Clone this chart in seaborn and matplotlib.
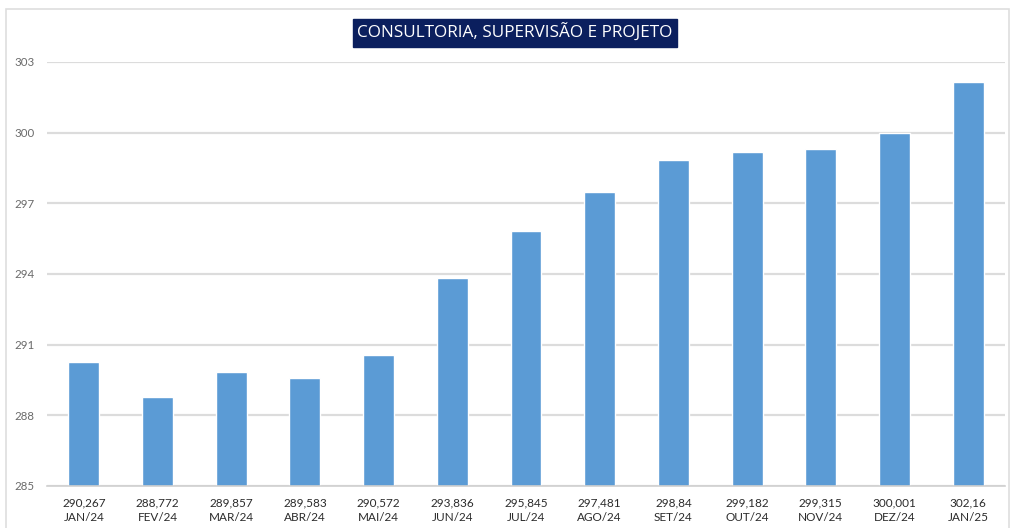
import numpy as np
import pandas as pd
import matplotlib
matplotlib.use("Agg")
import matplotlib.pyplot as plt
import seaborn as sns
from matplotlib.patches import Rectangle

# chart data
months = ["JAN/24", "FEV/24", "MAR/24", "ABR/24", "MAI/24", "JUN/24", "JUL/24",
          "AGO/24", "SET/24", "OUT/24", "NOV/24", "DEZ/24", "JAN/25"]
values = [290.267, 288.772, 289.857, 289.583, 290.572, 293.836, 295.845,
          297.481, 298.84, 299.182, 299.315, 300.001, 302.16]
y_ticks = [285, 288, 291, 294, 297, 300, 303]
title = "CONSULTORIA, SUPERVISÃO E PROJETO"


def make_labels(vals, names):
    """Value above month, with comma as decimal separator."""
    return [f"{str(v).replace('.', ',')}\n{n}" for v, n in zip(vals, names)]


df = pd.DataFrame({"mes": make_labels(values, months), "valor": values})

sns.set_style("white")
plt.rcParams['font.family'] = ['Lato', 'DejaVu Sans']

fig = plt.figure(figsize=(10.11, 5.28), dpi=100)
ax = fig.add_axes([47 / 1011, 42 / 528, 958 / 1011, 424 / 528])

sns.barplot(data=df, x="mes", y="valor", color="#5B9BD5", width=0.42,
            saturation=1, ax=ax, zorder=3)

ax.set_ylim(285, 303)
ax.set_xlim(-0.5, len(values) - 0.5)
ax.set_yticks(y_ticks)
ax.yaxis.grid(True, color="#dcdcdc", linewidth=1.6, zorder=0)
ax.set_xlabel("")
ax.set_ylabel("")

# axis styling
for side in ["top", "right", "left"]:
    ax.spines[side].set_visible(False)
ax.spines["bottom"].set_color("#d0d0d0")
ax.spines["bottom"].set_linewidth(1.2)
ax.spines["bottom"].set_zorder(4)

ax.tick_params(axis="y", length=0, labelsize=8.3, labelcolor="#6a6a6a", pad=9)
ax.tick_params(axis="x", which="major", length=0, labelsize=8.5,
               labelcolor="#2b2b2b", pad=8)
ax.set_xticks(np.arange(-0.5, len(values)), minor=True)
ax.tick_params(axis="x", which="minor", length=5, color="#d0d0d0", width=1.2)
for lbl in ax.get_xticklabels():
    lbl.set_linespacing(1.45)

# title box
fig.text(515 / 1011, 1 - 33 / 528, title, ha="center", va="center",
         fontsize=12.3, color="white", family=["Open Sans", "DejaVu Sans"],
         bbox=dict(boxstyle="square,pad=0.28", facecolor="#0b1f5e",
                   edgecolor="#0b1f5e"))

# outer frame around the chart
fig.patches.append(Rectangle((6 / 1011, -0.05), 1003 / 1011, 1.05 - 9 / 528,
                             transform=fig.transFigure, fill=False,
                             edgecolor="#dedede", linewidth=1.2))

fig.savefig("out.png", dpi=100, facecolor="white")
